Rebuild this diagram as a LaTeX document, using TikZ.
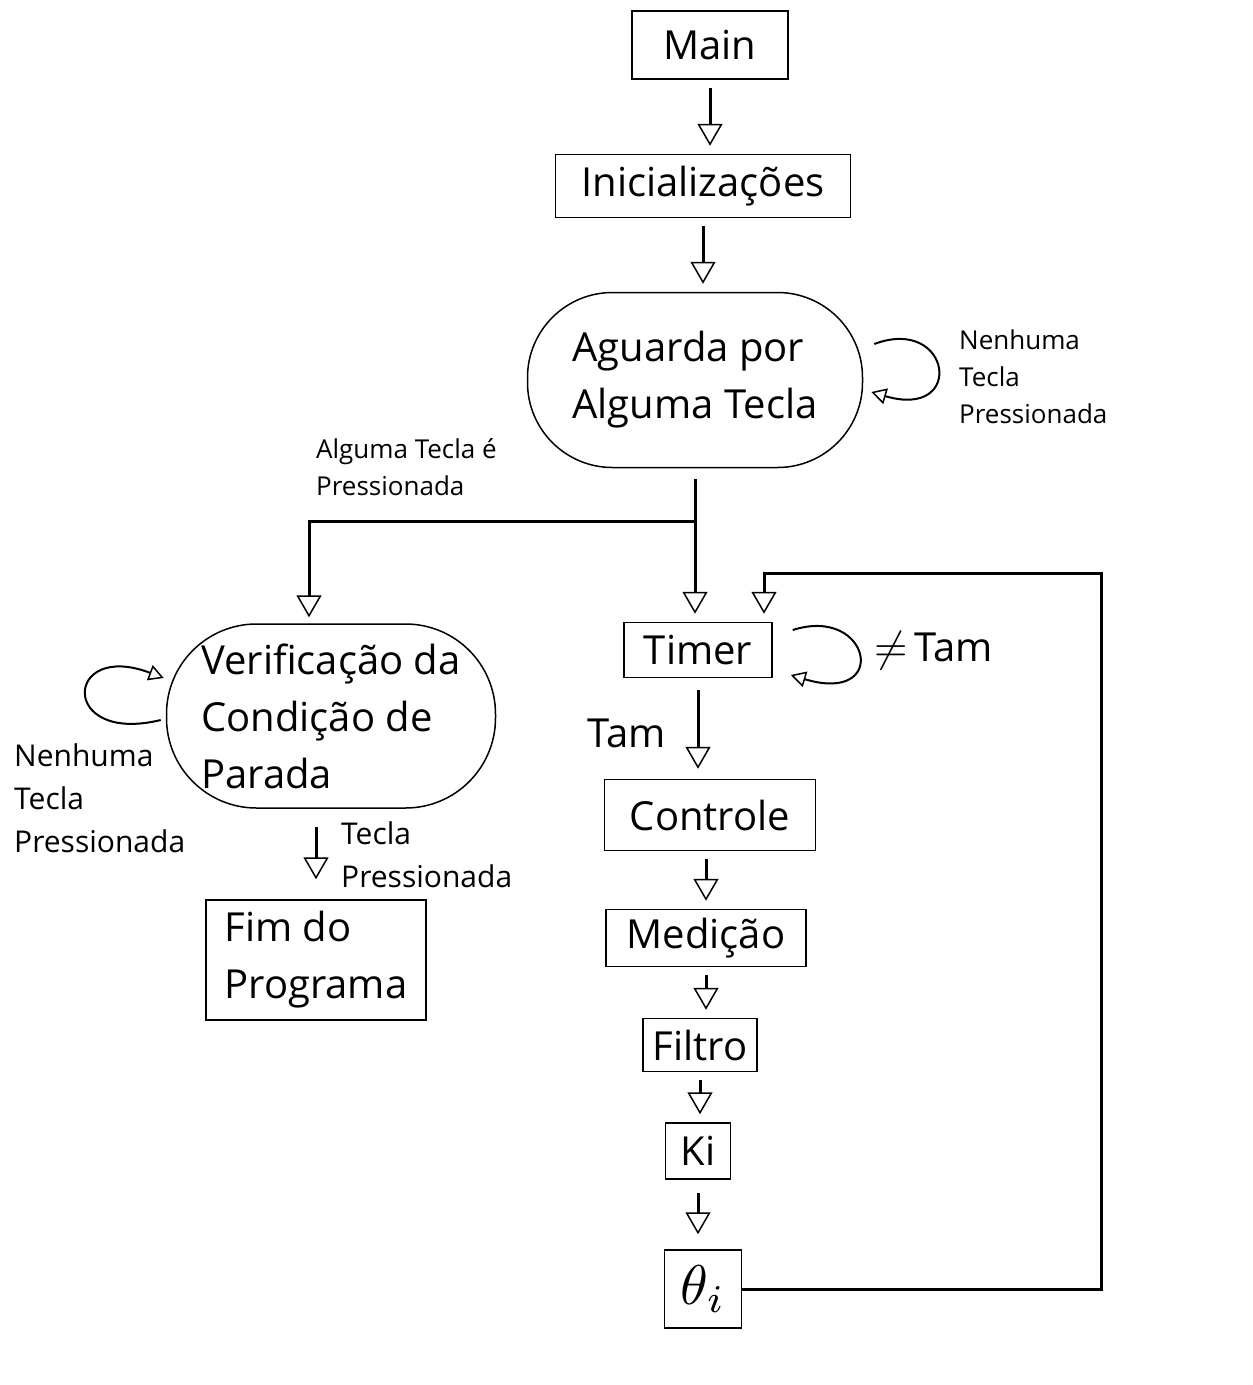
\documentclass[tikz,border=0pt]{standalone}
\usepackage{graphicx}
\usepackage{fontspec}
\setmainfont{Open Sans}
\usetikzlibrary{arrows.meta,calc}

\newcommand{\bigtxt}{\fontsize{40}{57}\selectfont}
\newcommand{\midtxt}{\fontsize{30}{43}\selectfont}
\newcommand{\smalltxt}{\fontsize{26}{37}\selectfont}
\newcommand{\bigmath}[2]{{\fontsize{10}{12}\selectfont\scalebox{#1}{$#2$}}}

\tikzset{
  box/.style={draw, line width=1.5pt, font=\bigtxt, inner sep=0pt},
  state/.style={draw, line width=1.5pt, rounded corners=85pt, font=\bigtxt, align=left, inner sep=0pt},
  flow/.style={line width=3pt, shorten <=8pt, shorten >=8pt,
    -{Triangle[open, width=25pt, length=22pt, line width=1.5pt]}},
  selfloop/.style={line width=2pt, -{Triangle[open, width=16pt, length=15pt, line width=1.5pt]}},
  lbl/.style={font=\smalltxt, align=left, anchor=west, inner sep=0pt},
}

\begin{document}
\begin{tikzpicture}[x=1pt, y=-1pt]

    \useasboundingbox[fill=white] (0,0) rectangle (1253,1385);

    % Boxes
    \node[box, minimum width=156, minimum height=68] (main) at (710,45) {Main};
    \node[box, minimum width=295, minimum height=63] (ini) at (703,186) {Inicializações};
    \node[state, minimum width=335, minimum height=175] (wait) at (695,380) {Aguarda por\\Alguma Tecla};
    \node[state, rounded corners=90pt, minimum width=329, minimum height=184] (check) at (331,716) {Verificação da\\Condição de\\Parada};
    \node[box, align=left, minimum width=220, minimum height=120] (stop) at (316,960) {Fim do\\Programa};
    \node[box, minimum width=148, minimum height=55] (timer) at (698,650) {Timer};
    \node[box, minimum width=211, minimum height=71] (ctrl) at (710,815) {Controle};
    \node[box, minimum width=200, minimum height=57] (meas) at (706,938) {Medição};
    \node[box, minimum width=114, minimum height=53] (filt) at (700,1045) {Filtro};
    \node[box, minimum width=65, minimum height=56] (ki) at (698,1151) {Ki};
    \node[box, minimum width=77, minimum height=78] (theta) at (703,1289) {\bigmath{5.6}{\theta_i}};

    % Main flow
    \draw[flow] (main.south) -- (main.south |- ini.north);
    \draw[flow] (ini.south) -- (ini.south |- wait.north);
    \coordinate (split) at (697,521);
    \draw[flow, shorten <=11pt] (wait.south) -- (wait.south |- timer.north);
    \draw[flow, shorten <=0pt, shorten >=6pt] (split) -| ([xshift=-22pt]check.north);
    \draw[flow, shorten <=18pt, shorten >=20pt] (check.south -| stop.north) -- (stop.north);
    \draw[flow, shorten <=12pt, shorten >=10pt] (timer.south) -- (timer.south |- ctrl.north);
    \draw[flow] (meas.north |- ctrl.south) -- (meas.north);
    \draw[flow] (meas.south) -- (meas.south |- filt.north);
    \draw[flow] (filt.south) -- (filt.south |- ki.north);
    \draw[flow, shorten <=13pt, shorten >=15pt] (ki.south) -- (ki.south |- theta.north);

    % Feedback to timer
    \coordinate (back) at (1101,573);
    \draw[flow, shorten <=0pt] (theta.east) -| (back) -| ([xshift=66pt]timer.north);

    % Self loops
    \draw[selfloop] ($(wait.east)+(11,-36)$) .. controls ($(wait.east)+(88,-65)$) and ($(wait.east)+(103,40)$) .. ($(wait.east)+(8,12)$);
    \draw[selfloop] ($(timer.east)+(20,-20)$) .. controls ($(timer.east)+(98,-45)$) and ($(timer.east)+(118,55)$) .. ($(timer.east)+(18,25)$);
    \draw[selfloop] ($(check.west)+(-5,4)$) .. controls ($(check.west)+(-107,29)$) and ($(check.west)+(-102,-76)$) .. ($(check.west)+(-2,-38)$);

    % Labels
    \node[lbl] (nokey) at (959,377) {Nenhuma\\Tecla\\Pressionada};
    \node[lbl] (anykey) at (316,467) {Alguma Tecla é\\Pressionada};
    \node[lbl, font=\midtxt] (nokeyleft) at (14,798) {Nenhuma\\Tecla\\Pressionada};
    \node[lbl, font=\midtxt] (stopkey) at (341,855) {Tecla\\Pressionada};
    \node[lbl, font=\bigtxt] (eqtam) at (587,733) {Tam};
    \node[lbl, font=\bigtxt] (neqtam) at (874,651) {\bigmath{4.3}{\neq}\,Tam};

\end{tikzpicture}
\end{document}
